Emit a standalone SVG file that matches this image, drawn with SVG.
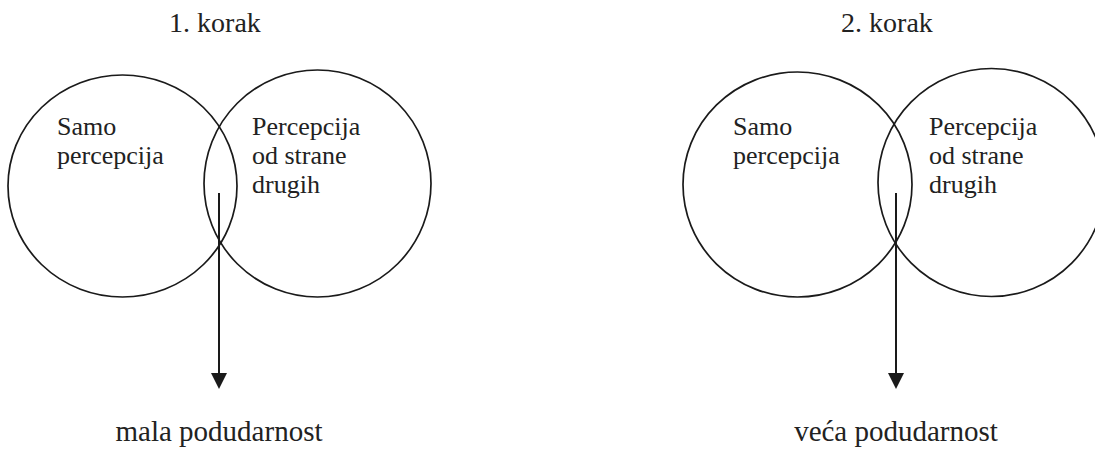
<svg xmlns="http://www.w3.org/2000/svg" width="1095" height="450" viewBox="0 0 1095 450">
  <style>
    .circ { fill: none; stroke: #1a1a1a; stroke-width: 1.7; }
    .lbl { font-family: 'Liberation Serif', 'DejaVu Serif', serif; font-size: 26px; fill: #222; }
    .title { font-family: 'Liberation Serif', 'DejaVu Serif', serif; font-size: 28px; fill: #222; text-anchor: middle; }
    .res { font-family: 'Liberation Serif', 'DejaVu Serif', serif; font-size: 29px; fill: #222; text-anchor: middle; }
    .arrow { stroke: #1a1a1a; stroke-width: 2; fill: none; marker-end: url(#head); }
  </style>
  <defs>
    <marker id="head" viewBox="0 0 16 16" refX="0" refY="8" markerWidth="16" markerHeight="16" markerUnits="userSpaceOnUse" orient="auto">
      <path d="M0,0 L16,8 L0,16 Z" fill="#1a1a1a"/>
    </marker>
  </defs>
  <rect width="1095" height="450" fill="#ffffff"/>

  <g id="title1"><text class="title" x="215" y="32">1. korak</text></g>
  <g id="title2"><text class="title" x="887" y="32">2. korak</text></g>

  <g id="self1">
    <ellipse class="circ" cx="122.5" cy="186" rx="114.5" ry="111"/>
    <text class="lbl" x="57" y="135">Samo</text>
    <text class="lbl" x="57" y="164">percepcija</text>
  </g>
  <g id="others1">
    <ellipse class="circ" cx="317.5" cy="183.5" rx="113.5" ry="113.5"/>
    <text class="lbl" x="252" y="135">Percepcija</text>
    <text class="lbl" x="252" y="164">od strane</text>
    <text class="lbl" x="252" y="193">drugih</text>
  </g>
  <g id="result1"><text class="res" x="219" y="441">mala podudarnost</text></g>

  <g id="self2">
    <ellipse class="circ" cx="797.5" cy="184.5" rx="114.5" ry="112.5"/>
    <text class="lbl" x="733" y="135">Samo</text>
    <text class="lbl" x="733" y="164">percepcija</text>
  </g>
  <g id="others2">
    <ellipse class="circ" cx="991.5" cy="182.5" rx="113.5" ry="114"/>
    <text class="lbl" x="929" y="135">Percepcija</text>
    <text class="lbl" x="929" y="164">od strane</text>
    <text class="lbl" x="929" y="193">drugih</text>
  </g>
  <g id="result2"><text class="res" x="896" y="441">veća podudarnost</text></g>

  <g id="connectors">
    <line class="arrow" x1="219" y1="193" x2="219" y2="373"/>
    <line class="arrow" x1="896" y1="193" x2="896" y2="373"/>
  </g>
</svg>
